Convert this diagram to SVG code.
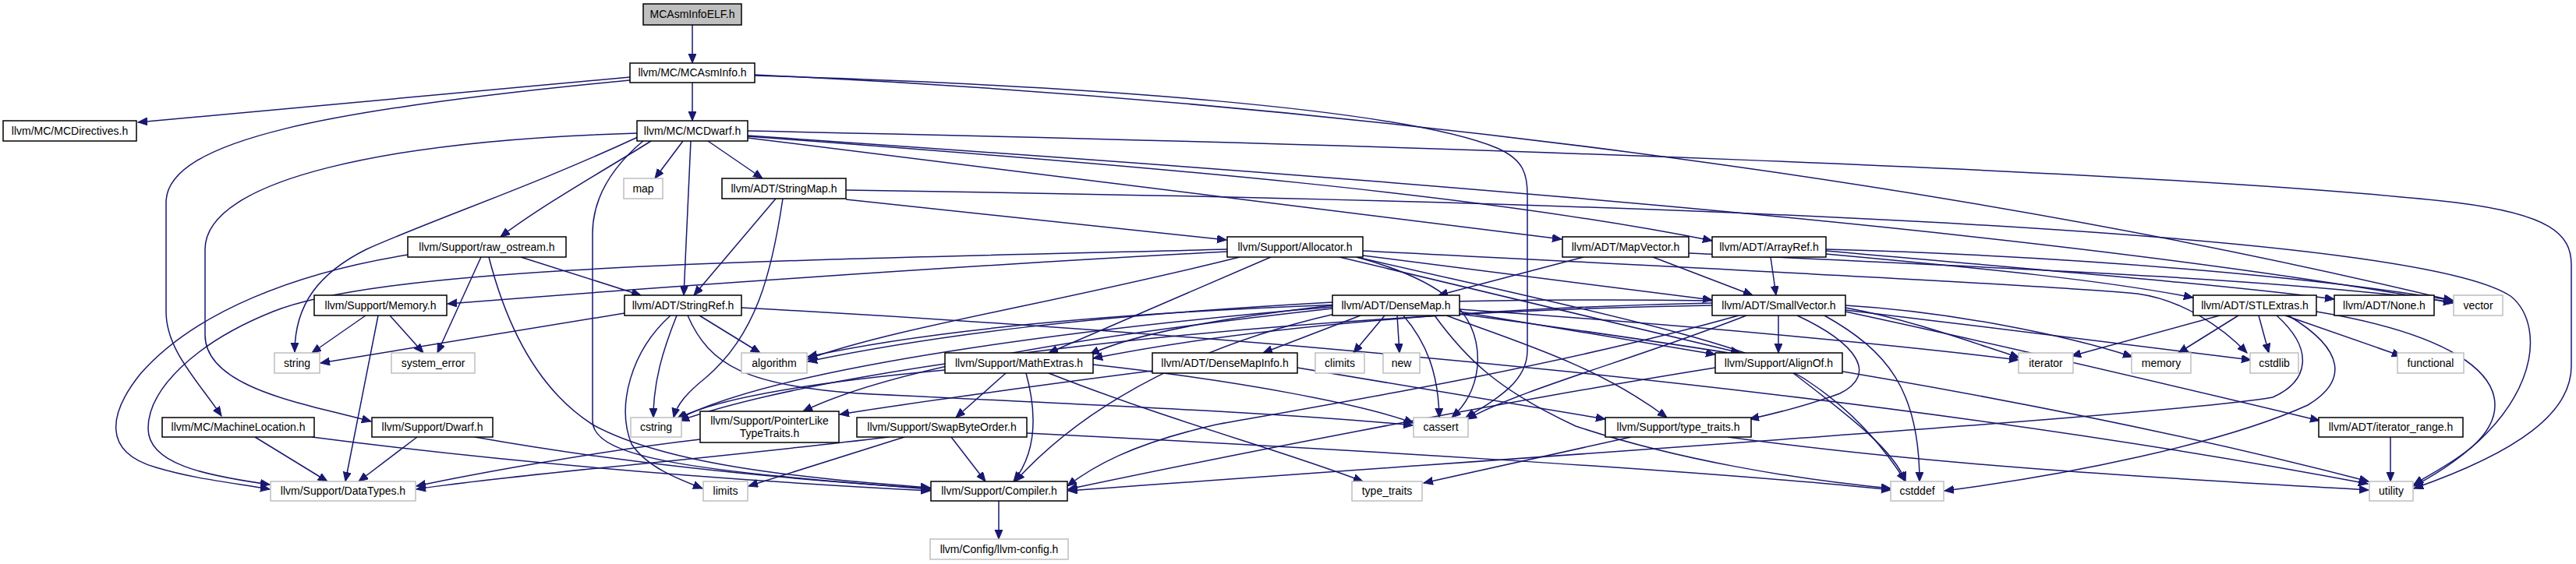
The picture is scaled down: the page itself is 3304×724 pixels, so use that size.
<svg xmlns="http://www.w3.org/2000/svg" width="3304" height="724" viewBox="0 0 3304 724">
<style>
.e{fill:none;stroke:#191970;stroke-width:1.5;marker-end:url(#ah)}
.n rect{fill:#fff;stroke:#000;stroke-width:1.5}
.g rect{fill:#fff;stroke:#bfbfbf;stroke-width:1.5}
.r rect{fill:#bfbfbf;stroke:#000;stroke-width:1.5}
text{font-family:"Liberation Sans",Arial,sans-serif;font-size:14px;text-anchor:middle;fill:#000}
</style>
<defs>
<marker id="ah" markerUnits="userSpaceOnUse" markerWidth="13" markerHeight="11" refX="12" refY="5" orient="auto">
<path d="M0,0 L12,5 L0,10 z" fill="#191970" stroke="#191970" stroke-width="1"/>
</marker>
</defs>
<rect width="3304" height="724" fill="#fff"/>
<g id="edges">
<path class="e" d="M888,32 L888,81"/>
<path class="e" d="M808,99 L177,157"/>
<path class="e" d="M888,106 L888,155"/>
<path class="e" d="M808,103 C420,140 213,180 213,260 L213,400 C213,450 255,490 284,534"/>
<path class="e" d="M968,97 C1400,110 1800,140 1920,190 C1955,205 1959,225 1959,250 L1959,450 C1959,490 1920,512 1880,536"/>
<path class="e" d="M968,96 C1700,130 2500,230 3146,386"/>
<path class="e" d="M876,181 L840,229"/>
<path class="e" d="M908,181 L978,229"/>
<path class="e" d="M886,181 L877,379"/>
<path class="e" d="M835,181 C790,210 700,260 642,304"/>
<path class="e" d="M826,180 C790,210 760,250 760,300 L760,540 C760,590 900,605 1193,628"/>
<path class="e" d="M817,171 C500,180 263,230 263,320 L263,430 C263,500 400,520 476,541"/>
<path class="e" d="M818,176 C680,240 560,280 470,320 C410,350 378,390 378,452"/>
<path class="e" d="M959,177 L2003,307"/>
<path class="e" d="M959,175 C1500,215 1900,250 2196,309"/>
<path class="e" d="M959,174 C1700,225 2600,290 3146,389"/>
<path class="e" d="M959,168 C1800,185 2800,220 3150,260 C3270,275 3298,300 3298,340 L3298,470 C3298,530 3230,580 3096,627"/>
<path class="e" d="M995,255 L890,379"/>
<path class="e" d="M1085,256 L1573,308"/>
<path class="e" d="M1004,255 C990,350 970,430 905,485 C880,505 868,520 864,536"/>
<path class="e" d="M1085,244 C2200,260 3100,300 3220,380 C3270,420 3255,540 3096,624"/>
<path class="e" d="M668,330 L822,379"/>
<path class="e" d="M627,330 C650,420 690,500 760,545 C860,600 1050,615 1193,626"/>
<path class="e" d="M523,327 C380,350 250,400 180,480 C140,530 130,580 200,600 C250,615 300,620 346,628"/>
<path class="e" d="M617,330 L561,453"/>
<path class="e" d="M485,405 L443,618"/>
<path class="e" d="M469,405 L400,453"/>
<path class="e" d="M500,405 L543,453"/>
<path class="e" d="M801,402 L411,466"/>
<path class="e" d="M897,405 L975,453"/>
<path class="e" d="M868,405 C850,450 838,490 838,536"/>
<path class="e" d="M860,405 C810,450 790,520 810,570 C830,600 870,615 901,627"/>
<path class="e" d="M882,405 C910,470 960,495 1100,505 C1400,520 1650,530 1812,546"/>
<path class="e" d="M951,395 C1600,430 2400,500 3037,621"/>
<path class="e" d="M1748,328 L2196,385"/>
<path class="e" d="M1718,330 L2232,453"/>
<path class="e" d="M1574,320 C1000,335 500,340 350,400 C250,440 190,500 190,550 C190,595 260,610 346,622"/>
<path class="e" d="M1574,323 C1200,343 800,372 574,390"/>
<path class="e" d="M1590,330 C1350,390 1150,420 1036,461"/>
<path class="e" d="M1630,330 L1345,453"/>
<path class="e" d="M1740,330 C1850,360 1900,400 1895,470 C1892,500 1880,520 1862,536"/>
<path class="e" d="M1748,322 C2200,345 2600,365 2741,377 C2800,385 2850,420 2882,453"/>
<path class="e" d="M1740,330 C2000,390 2250,440 2320,490 C2380,530 2420,580 2444,618"/>
<path class="e" d="M1745,405 L1620,453"/>
<path class="e" d="M1776,405 L1736,453"/>
<path class="e" d="M1792,405 L1795,453"/>
<path class="e" d="M1800,405 C1830,440 1845,480 1846,536"/>
<path class="e" d="M1712,403 C1550,440 1400,510 1302,618"/>
<path class="e" d="M1840,405 C1880,460 1920,500 2021,547 C2150,590 2300,615 2425,627"/>
<path class="e" d="M1709,388 C1400,405 1200,430 1036,464"/>
<path class="e" d="M1709,394 C1400,420 1000,470 870,538"/>
<path class="e" d="M1709,392 C1550,410 1450,430 1398,455"/>
<path class="e" d="M1709,396 C1400,430 1150,470 1030,528"/>
<path class="e" d="M1872,400 L2200,455"/>
<path class="e" d="M1855,405 C1950,440 2050,470 2138,536"/>
<path class="e" d="M1872,397 C2200,420 2450,445 2589,462"/>
<path class="e" d="M1872,403 C2300,460 2700,530 3038,618"/>
<path class="e" d="M2281,405 L2281,453"/>
<path class="e" d="M2240,405 C2100,460 1950,500 1882,538"/>
<path class="e" d="M2305,405 C2380,440 2410,480 2360,505 C2320,520 2280,530 2244,538"/>
<path class="e" d="M2340,405 C2420,450 2462,500 2462,618"/>
<path class="e" d="M2367,395 C2450,410 2530,440 2590,459"/>
<path class="e" d="M2367,392 C2500,400 2650,430 2735,458"/>
<path class="e" d="M2367,398 C2550,420 2750,445 2887,462"/>
<path class="e" d="M2196,386 C1800,380 1300,400 1036,458"/>
<path class="e" d="M2196,392 C1700,400 1100,460 872,540"/>
<path class="e" d="M2196,389 C1900,395 1600,420 1402,460"/>
<path class="e" d="M2230,405 C2000,470 1700,520 1560,545 C1450,570 1400,600 1369,624"/>
<path class="e" d="M2367,400 C2600,450 2850,510 2975,540"/>
<path class="e" d="M1478,476 C1350,492 1150,520 1077,532"/>
<path class="e" d="M1664,472 L2059,538"/>
<path class="e" d="M1290,479 L1226,536"/>
<path class="e" d="M1316,479 C1330,530 1330,580 1300,618"/>
<path class="e" d="M1345,479 C1500,540 1650,580 1748,618"/>
<path class="e" d="M1402,468 C1600,490 1750,520 1813,543"/>
<path class="e" d="M1212,475 C1050,490 920,510 868,538"/>
<path class="e" d="M1220,561 L1264,618"/>
<path class="e" d="M1160,561 L960,624"/>
<path class="e" d="M1140,561 C900,590 650,610 534,628"/>
<path class="e" d="M1317,556 C1700,575 2200,605 2425,629"/>
<path class="e" d="M898,564 C760,580 600,610 534,624"/>
<path class="e" d="M2200,472 C1900,520 1550,590 1370,628"/>
<path class="e" d="M2300,479 C2380,540 2430,580 2444,618"/>
<path class="e" d="M2092,561 L1826,620"/>
<path class="e" d="M2216,561 C2500,600 2800,615 3038,629"/>
<path class="e" d="M2847,405 L2657,457"/>
<path class="e" d="M2871,405 L2794,453"/>
<path class="e" d="M2897,405 L2910,453"/>
<path class="e" d="M2931,405 L3080,457"/>
<path class="e" d="M2935,405 C3010,450 3010,490 2960,520 C2850,570 2650,610 2494,630"/>
<path class="e" d="M2920,405 C2970,450 2960,490 2915,510 C2800,530 2200,570 1370,630"/>
<path class="e" d="M2971,400 C3150,430 3200,480 3200,520 C3200,570 3130,600 3096,622"/>
<path class="e" d="M3066,561 L3066,618"/>
<path class="e" d="M535,561 L460,618"/>
<path class="e" d="M609,561 C800,595 1000,615 1193,627"/>
<path class="e" d="M327,561 L420,618"/>
<path class="e" d="M400,561 C700,600 1000,620 1193,630"/>
<path class="e" d="M1281,643 L1281,692"/>
<path class="e" d="M2031,330 L1845,379"/>
<path class="e" d="M2120,330 L2248,379"/>
<path class="e" d="M2166,325 C2600,345 2950,360 3147,388"/>
<path class="e" d="M2271,330 L2278,379"/>
<path class="e" d="M2342,322 C2600,345 2850,365 2994,384"/>
<path class="e" d="M2342,326 C2550,345 2700,360 2813,382"/>
<path class="e" d="M2342,320 C2700,330 3000,360 3147,386"/>
</g>
<g id="n_elf" class="r"><rect x="825" y="5" width="126" height="27"/><text x="888" y="23">MCAsmInfoELF.h</text></g>
<g id="n_mcasminfo" class="n"><rect x="808" y="81" width="160" height="25"/><text x="888" y="98">llvm/MC/MCAsmInfo.h</text></g>
<g id="n_mcdirectives" class="n"><rect x="4" y="155" width="171" height="26"/><text x="89.5" y="173">llvm/MC/MCDirectives.h</text></g>
<g id="n_mcdwarf" class="n"><rect x="817" y="155" width="142" height="26"/><text x="888" y="173">llvm/MC/MCDwarf.h</text></g>
<g id="n_map" class="g"><rect x="800" y="229" width="50" height="26"/><text x="825" y="247">map</text></g>
<g id="n_stringmap" class="n"><rect x="926" y="229" width="159" height="26"/><text x="1005.5" y="247">llvm/ADT/StringMap.h</text></g>
<g id="n_raw_ostream" class="n"><rect x="523" y="304" width="203" height="26"/><text x="624.5" y="322">llvm/Support/raw_ostream.h</text></g>
<g id="n_allocator" class="n"><rect x="1574" y="304" width="174" height="26"/><text x="1661" y="322">llvm/Support/Allocator.h</text></g>
<g id="n_mapvector" class="n"><rect x="2004" y="304" width="162" height="26"/><text x="2085" y="322">llvm/ADT/MapVector.h</text></g>
<g id="n_arrayref" class="n"><rect x="2196" y="304" width="146" height="26"/><text x="2269" y="322">llvm/ADT/ArrayRef.h</text></g>
<g id="n_memory" class="n"><rect x="403" y="379" width="170" height="26"/><text x="488" y="397">llvm/Support/Memory.h</text></g>
<g id="n_stringref" class="n"><rect x="801" y="379" width="150" height="26"/><text x="876" y="397">llvm/ADT/StringRef.h</text></g>
<g id="n_densemap" class="n"><rect x="1709" y="379" width="163" height="26"/><text x="1790.5" y="397">llvm/ADT/DenseMap.h</text></g>
<g id="n_smallvector" class="n"><rect x="2196" y="379" width="171" height="26"/><text x="2281.5" y="397">llvm/ADT/SmallVector.h</text></g>
<g id="n_stlextras" class="n"><rect x="2813" y="379" width="158" height="26"/><text x="2892" y="397">llvm/ADT/STLExtras.h</text></g>
<g id="n_none" class="n"><rect x="2994" y="379" width="128" height="26"/><text x="3058" y="397">llvm/ADT/None.h</text></g>
<g id="n_vector" class="g"><rect x="3147" y="379" width="63" height="26"/><text x="3178.5" y="397">vector</text></g>
<g id="n_string" class="g"><rect x="352" y="453" width="58" height="26"/><text x="381" y="471">string</text></g>
<g id="n_system_error" class="g"><rect x="502" y="453" width="107" height="26"/><text x="555.5" y="471">system_error</text></g>
<g id="n_algorithm" class="g"><rect x="951" y="453" width="84" height="26"/><text x="993" y="471">algorithm</text></g>
<g id="n_mathextras" class="n"><rect x="1212" y="453" width="190" height="26"/><text x="1307" y="471">llvm/Support/MathExtras.h</text></g>
<g id="n_densemapinfo" class="n"><rect x="1478" y="453" width="186" height="26"/><text x="1571" y="471">llvm/ADT/DenseMapInfo.h</text></g>
<g id="n_climits" class="g"><rect x="1687" y="453" width="63" height="26"/><text x="1718.5" y="471">climits</text></g>
<g id="n_new" class="g"><rect x="1774" y="453" width="47" height="26"/><text x="1797.5" y="471">new</text></g>
<g id="n_alignof" class="n"><rect x="2200" y="453" width="163" height="26"/><text x="2281.5" y="471">llvm/Support/AlignOf.h</text></g>
<g id="n_iterator" class="g"><rect x="2589" y="453" width="70" height="26"/><text x="2624" y="471">iterator</text></g>
<g id="n_memory_std" class="g"><rect x="2734" y="453" width="76" height="26"/><text x="2772" y="471">memory</text></g>
<g id="n_cstdlib" class="g"><rect x="2886" y="453" width="62" height="26"/><text x="2917" y="471">cstdlib</text></g>
<g id="n_functional" class="g"><rect x="3075" y="453" width="85" height="26"/><text x="3117.5" y="471">functional</text></g>
<g id="n_machinelocation" class="n"><rect x="208" y="536" width="195" height="25"/><text x="305.5" y="553">llvm/MC/MachineLocation.h</text></g>
<g id="n_dwarf" class="n"><rect x="477" y="536" width="155" height="25"/><text x="554.5" y="553">llvm/Support/Dwarf.h</text></g>
<g id="n_cstring" class="g"><rect x="809" y="536" width="65" height="25"/><text x="841.5" y="553">cstring</text></g>
<g id="n_pointerlike" class="n"><rect x="898" y="528" width="178" height="40"/><text x="987" y="545">llvm/Support/PointerLike</text><text x="987" y="561">TypeTraits.h</text></g>
<g id="n_swapbyteorder" class="n"><rect x="1099" y="536" width="218" height="25"/><text x="1208" y="553">llvm/Support/SwapByteOrder.h</text></g>
<g id="n_cassert" class="g"><rect x="1813" y="536" width="70" height="25"/><text x="1848" y="553">cassert</text></g>
<g id="n_type_traits_h" class="n"><rect x="2059" y="536" width="187" height="25"/><text x="2152.5" y="553">llvm/Support/type_traits.h</text></g>
<g id="n_iterator_range" class="n"><rect x="2974" y="536" width="185" height="25"/><text x="3066.5" y="553">llvm/ADT/iterator_range.h</text></g>
<g id="n_datatypes" class="g"><rect x="347" y="618" width="186" height="25"/><text x="440" y="635">llvm/Support/DataTypes.h</text></g>
<g id="n_limits" class="g"><rect x="902" y="618" width="57" height="25"/><text x="930.5" y="635">limits</text></g>
<g id="n_compiler" class="n"><rect x="1194" y="618" width="175" height="25"/><text x="1281.5" y="635">llvm/Support/Compiler.h</text></g>
<g id="n_type_traits" class="g"><rect x="1734" y="618" width="90" height="25"/><text x="1779" y="635">type_traits</text></g>
<g id="n_cstddef" class="g"><rect x="2425" y="618" width="68" height="25"/><text x="2459" y="635">cstddef</text></g>
<g id="n_utility" class="g"><rect x="3039" y="618" width="56" height="25"/><text x="3067" y="635">utility</text></g>
<g id="n_llvm_config" class="g"><rect x="1193" y="692" width="177" height="26"/><text x="1281.5" y="710">llvm/Config/llvm-config.h</text></g>
</svg>
